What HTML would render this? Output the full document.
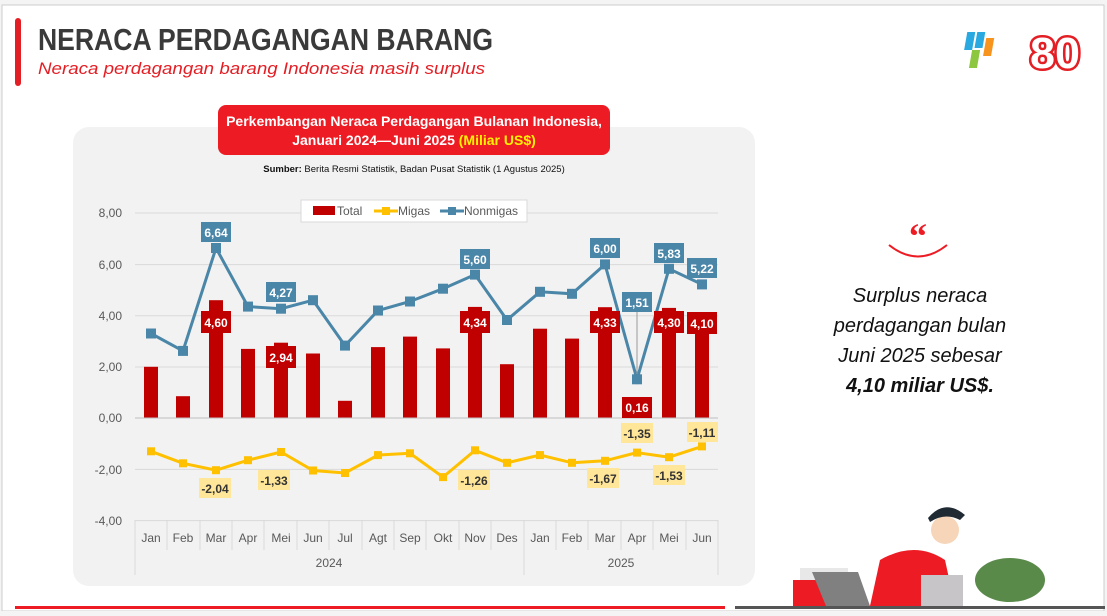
<!DOCTYPE html>
<html><head><meta charset="utf-8"><style>
body{margin:0;width:1107px;height:611px;overflow:hidden;background:#f4f4f4;font-family:"Liberation Sans",sans-serif}
</style></head><body>
<svg width="1107" height="611" xmlns="http://www.w3.org/2000/svg" font-family="Liberation Sans, sans-serif">
<rect x="0" y="0" width="1107" height="611" fill="#f4f4f4"/>
<rect x="2" y="5" width="1102" height="606" fill="#fff" stroke="#ccc"/>
<rect x="15" y="18" width="6" height="68" rx="3" fill="#e31e24"/>
<text x="38" y="50" font-size="31" font-weight="bold" fill="#3a3a3a" textLength="455" lengthAdjust="spacingAndGlyphs">NERACA PERDAGANGAN BARANG</text>
<text x="38" y="74" font-size="17" font-style="italic" fill="#e31e24" textLength="447" lengthAdjust="spacingAndGlyphs">Neraca perdagangan barang Indonesia masih surplus</text>
<!-- logo -->
<g transform="translate(968,28)"><rect x="0" y="4" width="8" height="18" fill="#2aa8e0" transform="skewX(-10)"/><rect x="10" y="4" width="8" height="16" fill="#2aa8e0" transform="skewX(-10)"/><rect x="20" y="10" width="8" height="18" fill="#f7941d" transform="skewX(-10)"/><rect x="8" y="22" width="8" height="18" fill="#8dc63f" transform="skewX(-10)"/></g>
<text x="1030" y="68" font-size="44" font-weight="bold" fill="#fff" stroke="#e31e24" stroke-width="5" paint-order="stroke" textLength="50" lengthAdjust="spacingAndGlyphs">80</text>
<!-- chart panel -->
<rect x="73" y="127" width="682" height="459" rx="16" fill="#f2f2f2"/>
<rect x="218" y="105" width="392" height="50" rx="8" fill="#ed1c24"/>
<text x="414" y="126" font-size="14" font-weight="bold" fill="#fff" text-anchor="middle">Perkembangan Neraca Perdagangan Bulanan Indonesia,</text>
<text x="414" y="145" font-size="14" font-weight="bold" fill="#fff" text-anchor="middle">Januari 2024—Juni 2025 <tspan fill="#fff200">(Miliar US$)</tspan></text>
<text x="414" y="172" font-size="9.5" fill="#111" text-anchor="middle"><tspan font-weight="bold">Sumber:</tspan> Berita Resmi Statistik, Badan Pusat Statistik (1 Agustus 2025)</text>
<!-- grid -->
<g stroke="#d9d9d9" stroke-width="1">
<line x1="135" y1="213" x2="718" y2="213"/><line x1="135" y1="264.6" x2="718" y2="264.6"/><line x1="135" y1="315.8" x2="718" y2="315.8"/><line x1="135" y1="367" x2="718" y2="367"/><line x1="135" y1="418" x2="718" y2="418"/><line x1="135" y1="469.4" x2="718" y2="469.4"/><line x1="135" y1="520.6" x2="718" y2="520.6"/>
</g>
<g font-size="12" fill="#595959" text-anchor="end">
<text x="122" y="217">8,00</text><text x="122" y="269">6,00</text><text x="122" y="320">4,00</text><text x="122" y="371">2,00</text><text x="122" y="422">0,00</text><text x="122" y="474">-2,00</text><text x="122" y="525">-4,00</text>
</g>
<!-- bars -->
<g fill="#c00000">
<rect x="144" y="366.8" width="14" height="51.2"/><rect x="176" y="396.2" width="14" height="21.8"/><rect x="209" y="300.2" width="14" height="117.8"/><rect x="241" y="348.9" width="14" height="69.1"/><rect x="274" y="342.7" width="14" height="75.3"/><rect x="306" y="353.5" width="14" height="64.5"/><rect x="338" y="400.8" width="14" height="17.2"/><rect x="371" y="347.1" width="14" height="70.9"/><rect x="403" y="336.6" width="14" height="81.4"/><rect x="436" y="348.4" width="14" height="69.6"/><rect x="468" y="306.9" width="14" height="111.1"/><rect x="500" y="364.2" width="14" height="53.8"/><rect x="533" y="328.7" width="14" height="89.3"/><rect x="565" y="338.6" width="14" height="79.4"/><rect x="598" y="307.2" width="14" height="110.8"/><rect x="630" y="413.9" width="14" height="4.1"/><rect x="662" y="307.9" width="14" height="110.1"/><rect x="695" y="313" width="14" height="105"/>
</g>
<line x1="135" y1="418" x2="718" y2="418" stroke="#bfbfbf"/>
<!-- nonmigas -->
<polyline fill="none" stroke="#4a86a8" stroke-width="3" points="151,333.5 183,350.9 216,248 248,306.6 281,308.7 313,300.2 345,345.6 378,310.5 410,301.5 443,288.7 475,274.6 507,320 540,291.8 572,293.8 605,264.4 637,379.3 669,268.8 702,284.4"/>
<g fill="#4a86a8">
<rect x="146" y="328.5" width="10" height="10"/><rect x="178" y="345.9" width="10" height="10"/><rect x="211" y="243" width="10" height="10"/><rect x="243" y="301.6" width="10" height="10"/><rect x="276" y="303.7" width="10" height="10"/><rect x="308" y="295.2" width="10" height="10"/><rect x="340" y="340.6" width="10" height="10"/><rect x="373" y="305.5" width="10" height="10"/><rect x="405" y="296.5" width="10" height="10"/><rect x="438" y="283.7" width="10" height="10"/><rect x="470" y="269.6" width="10" height="10"/><rect x="502" y="315" width="10" height="10"/><rect x="535" y="286.8" width="10" height="10"/><rect x="567" y="288.8" width="10" height="10"/><rect x="600" y="259.4" width="10" height="10"/><rect x="632" y="374.3" width="10" height="10"/><rect x="664" y="263.8" width="10" height="10"/><rect x="697" y="279.4" width="10" height="10"/>
</g>
<!-- migas -->
<polyline fill="none" stroke="#ffc000" stroke-width="3" points="151,451.3 183,463.3 216,470.2 248,460.2 281,452 313,470.5 345,473 378,455.1 410,453.3 443,477.1 475,450.3 507,462.8 540,455.1 572,462.8 605,460.8 637,452.6 669,457.2 702,446.4"/>
<g fill="#ffc000">
<rect x="147" y="447.3" width="8" height="8"/><rect x="179" y="459.3" width="8" height="8"/><rect x="212" y="466.2" width="8" height="8"/><rect x="244" y="456.2" width="8" height="8"/><rect x="277" y="448" width="8" height="8"/><rect x="309" y="466.5" width="8" height="8"/><rect x="341" y="469" width="8" height="8"/><rect x="374" y="451.1" width="8" height="8"/><rect x="406" y="449.3" width="8" height="8"/><rect x="439" y="473.1" width="8" height="8"/><rect x="471" y="446.3" width="8" height="8"/><rect x="503" y="458.8" width="8" height="8"/><rect x="536" y="451.1" width="8" height="8"/><rect x="568" y="458.8" width="8" height="8"/><rect x="601" y="456.8" width="8" height="8"/><rect x="633" y="448.6" width="8" height="8"/><rect x="665" y="453.2" width="8" height="8"/><rect x="698" y="442.4" width="8" height="8"/>
</g>
<!-- labels: total -->
<g font-size="12" font-weight="bold" fill="#fff" text-anchor="middle">
<rect x="201" y="311" width="30" height="22" fill="#c00000"/><text x="216" y="327">4,60</text>
<rect x="266" y="346" width="30" height="22" fill="#c00000"/><text x="281" y="362">2,94</text>
<rect x="460" y="311" width="30" height="22" fill="#c00000"/><text x="475" y="327">4,34</text>
<rect x="590" y="311" width="30" height="22" fill="#c00000"/><text x="605" y="327">4,33</text>
<rect x="622" y="397" width="30" height="21" fill="#c00000"/><text x="637" y="412">0,16</text>
<rect x="654" y="311" width="30" height="22" fill="#c00000"/><text x="669" y="327">4,30</text>
<rect x="687" y="312" width="30" height="22" fill="#c00000"/><text x="702" y="328">4,10</text>
<!-- nonmigas labels -->
<rect x="201" y="222" width="30" height="20" fill="#4a86a8"/><text x="216" y="237">6,64</text>
<rect x="266" y="282" width="30" height="20" fill="#4a86a8"/><text x="281" y="297">4,27</text>
<rect x="460" y="249" width="30" height="20" fill="#4a86a8"/><text x="475" y="264">5,60</text>
<rect x="590" y="238" width="30" height="20" fill="#4a86a8"/><text x="605" y="253">6,00</text>
<rect x="622" y="292" width="30" height="20" fill="#4a86a8"/><text x="637" y="307">1,51</text>
<rect x="654" y="243" width="30" height="20" fill="#4a86a8"/><text x="669" y="258">5,83</text>
<rect x="687" y="258" width="30" height="20" fill="#4a86a8"/><text x="702" y="273">5,22</text>
</g>
<line x1="637" y1="312" x2="637" y2="374" stroke="#999"/>
<!-- migas labels -->
<g font-size="12" font-weight="bold" fill="#333" text-anchor="middle">
<rect x="199" y="478" width="32" height="20" fill="#ffe699"/><text x="215" y="493">-2,04</text>
<rect x="258" y="470" width="32" height="20" fill="#ffe699"/><text x="274" y="485">-1,33</text>
<rect x="458" y="470" width="32" height="20" fill="#ffe699"/><text x="474" y="485">-1,26</text>
<rect x="587" y="468" width="32" height="20" fill="#ffe699"/><text x="603" y="483">-1,67</text>
<rect x="621" y="423" width="32" height="20" fill="#ffe699"/><text x="637" y="438">-1,35</text>
<rect x="653" y="465" width="32" height="20" fill="#ffe699"/><text x="669" y="480">-1,53</text>
<rect x="687" y="422" width="31" height="20" fill="#ffe699"/><text x="702" y="437">-1,11</text>
</g>
<!-- legend -->
<rect x="301" y="200" width="226" height="22" fill="#fff" stroke="#d9d9d9"/>
<rect x="313" y="206" width="22" height="9" fill="#c00000"/><text x="337" y="215" font-size="12" fill="#595959">Total</text>
<line x1="374" y1="211" x2="398" y2="211" stroke="#ffc000" stroke-width="3"/><rect x="382" y="207" width="8" height="8" fill="#ffc000"/><text x="398" y="215" font-size="12" fill="#595959">Migas</text>
<line x1="440" y1="211" x2="464" y2="211" stroke="#4a86a8" stroke-width="3"/><rect x="448" y="207" width="8" height="8" fill="#4a86a8"/><text x="464" y="215" font-size="12" fill="#595959">Nonmigas</text>
<!-- x axis -->
<g stroke="#d9d9d9"><line x1="135" y1="520" x2="135" y2="575"/><line x1="524" y1="520" x2="524" y2="575"/><line x1="718" y1="520" x2="718" y2="575"/>
<line x1="167" y1="520" x2="167" y2="550"/><line x1="200" y1="520" x2="200" y2="550"/><line x1="232" y1="520" x2="232" y2="550"/><line x1="264" y1="520" x2="264" y2="550"/><line x1="297" y1="520" x2="297" y2="550"/><line x1="329" y1="520" x2="329" y2="550"/><line x1="362" y1="520" x2="362" y2="550"/><line x1="394" y1="520" x2="394" y2="550"/><line x1="426" y1="520" x2="426" y2="550"/><line x1="459" y1="520" x2="459" y2="550"/><line x1="491" y1="520" x2="491" y2="550"/><line x1="556" y1="520" x2="556" y2="550"/><line x1="588" y1="520" x2="588" y2="550"/><line x1="621" y1="520" x2="621" y2="550"/><line x1="653" y1="520" x2="653" y2="550"/><line x1="686" y1="520" x2="686" y2="550"/></g>
<g font-size="12" fill="#595959" text-anchor="middle">
<text x="151" y="542">Jan</text><text x="183" y="542">Feb</text><text x="216" y="542">Mar</text><text x="248" y="542">Apr</text><text x="281" y="542">Mei</text><text x="313" y="542">Jun</text><text x="345" y="542">Jul</text><text x="378" y="542">Agt</text><text x="410" y="542">Sep</text><text x="443" y="542">Okt</text><text x="475" y="542">Nov</text><text x="507" y="542">Des</text><text x="540" y="542">Jan</text><text x="572" y="542">Feb</text><text x="605" y="542">Mar</text><text x="637" y="542">Apr</text><text x="669" y="542">Mei</text><text x="702" y="542">Jun</text>
<text x="329" y="567">2024</text><text x="621" y="567">2025</text>
</g>
<!-- quote -->
<text x="918" y="248" font-size="36" font-weight="bold" fill="#ed1c24" text-anchor="middle" font-family="Liberation Serif, serif">“</text>
<path d="M889 245 Q918 268 947 245" fill="none" stroke="#ed1c24" stroke-width="2"/>
<g font-size="20" font-style="italic" fill="#111" text-anchor="middle">
<text x="920" y="302">Surplus neraca</text><text x="920" y="332">perdagangan bulan</text><text x="920" y="362">Juni 2025 sebesar</text><text x="920" y="392" font-weight="bold">4,10 miliar US$.</text>
</g>
<!-- illustration -->
<rect x="800" y="568" width="48" height="12" fill="#e8e8e8"/><rect x="793" y="580" width="45" height="26" fill="#ed1c24"/>
<polygon points="812,572 858,572 870,606 826,606" fill="#808080"/>
<path d="M880 560 Q915 540 945 560 L955 606 L870 606 Z" fill="#ed1c24"/>
<circle cx="945" cy="530" r="14" fill="#f6d5b8"/><path d="M928 518 Q945 498 965 515 L960 520 Q945 512 930 522Z" fill="#1f2a33"/>
<rect x="921" y="575" width="42" height="31" fill="#c8c5c8"/>
<ellipse cx="1010" cy="580" rx="35" ry="22" fill="#5a8a4a"/>
<rect x="15" y="606" width="710" height="3" fill="#ed1c24"/><rect x="735" y="606" width="370" height="3" fill="#555"/>
</svg>
</body></html>
